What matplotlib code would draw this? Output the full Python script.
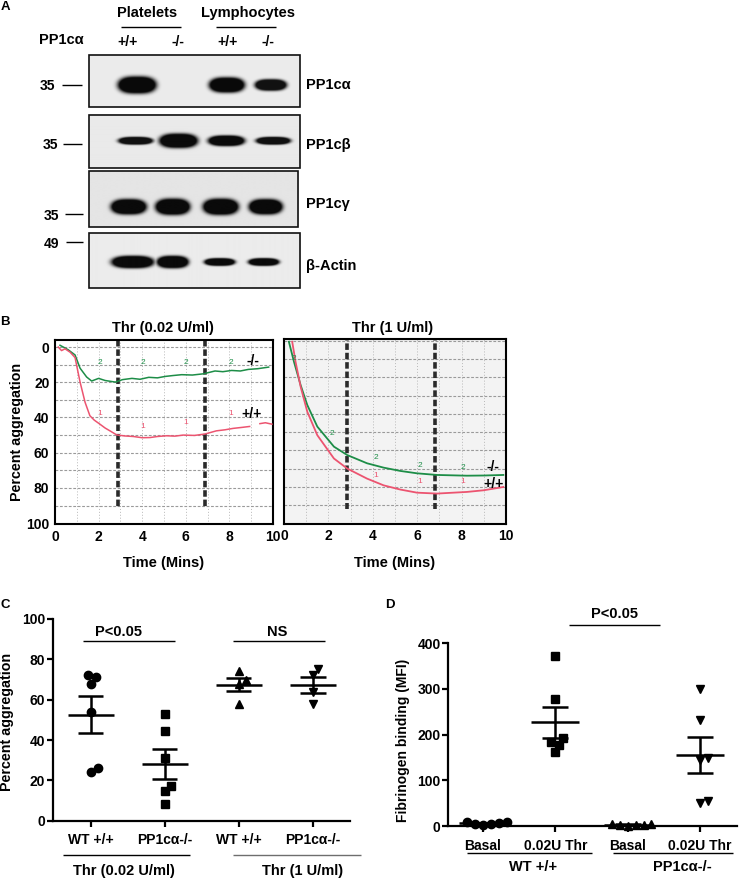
import numpy as np
import matplotlib
matplotlib.use('Agg')
import matplotlib.pyplot as plt
from matplotlib.patches import Rectangle

plt.rcParams['font.family'] = ['Liberation Sans', 'DejaVu Sans']
plt.rcParams['font.weight'] = 'bold'
plt.rcParams['axes.labelweight'] = 'bold'

# ------------------------------------------------------------------ data
cell_types = ['Platelets', 'Lymphocytes']
genotypes = ['+/+', '-/-', '+/+', '-/-']
blot_labels = ['PP1cα', 'PP1cβ', 'PP1cγ', 'β-Actin']
mw_labels = ['35', '35', '35', '49']

# band strength / thickness / width (px) per lane
pp1ca_int = [1.0, 0.0, 1.0, 0.97]
pp1ca_thick = [18, 0, 16, 12]
pp1ca_width = [40, 0, 37, 33]
pp1cb_int = [0.97, 1.0, 1.0, 0.97]
pp1cb_thick = [8, 15, 11, 8]
pp1cb_width = [36, 40, 38, 36]
pp1cg_int = [1.0, 1.0, 1.0, 1.0]
pp1cg_thick = [16, 17, 17, 16]
pp1cg_width = [37, 36, 37, 35]
actin_int = [1.0, 1.0, 1.0, 1.0]
actin_thick = [13, 13, 8, 8]
actin_width = [44, 33, 32, 32]

# aggregation traces, Thr 0.02 U/ml
tL_ko = [0.23, 0.38, 0.6, 0.92, 1.15, 1.45, 1.68, 2.0, 2.3, 2.77, 3.1, 3.53, 3.9, 4.3,
         4.7, 5.05, 5.4, 5.81, 6.3, 6.81, 7.34, 7.7, 8.1, 8.5, 8.87, 9.3, 9.8]
vL_ko = [-1, 0, 1.5, 4.5, 12, 17, 19.3, 17.8, 19, 19.9, 18.5, 17.8, 18.3, 17.2,
         17.5, 16.7, 16.2, 15.7, 15.9, 15.2, 13.6, 14, 13.3, 13.6, 12.7, 12.3, 11.4]
tL_wt = [0.15, 0.3, 0.46, 0.7, 0.92, 1.15, 1.38, 1.6, 1.8, 2.06, 2.3, 2.52, 2.83, 3.2,
         3.59, 4.0, 4.36, 4.7, 5.12, 5.5, 5.88, 6.4, 6.88, 7.4, 7.8, 8.17, 8.6, 8.93,
         9.1, 9.4, 9.65, 9.95]
vL_wt = [0, 2, 1, 3, 6, 19.9, 31.4, 39, 41.5, 43.8, 46, 47.6, 49.9, 50.5,
         50.8, 51.5, 51.4, 50.8, 50.4, 50.6, 50, 50.2, 49.4, 47.6, 47, 46.2, 45.6, 45.1,
         np.nan, 43.5, 43.0, 43.8]
# aggregation traces, Thr 1 U/ml
tR_ko = [0.22, 0.45, 0.75, 1.05, 1.5, 2.25, 2.85, 3.74, 4.49, 5.24, 5.99, 6.89, 8.24, 9.0, 9.88]
vR_ko = [0.5, 11.5, 24.3, 35.2, 47, 58, 62.6, 67.1, 69.5, 71.3, 72.6, 73.5, 73.9, 73.8, 73.5]
tR_wt = [0.37, 0.52, 0.75, 1.05, 1.5, 2.25, 2.85, 3.74, 4.49, 5.24, 5.99, 6.89, 8.24, 8.99, 9.88]
vR_wt = [0.5, 11.5, 25.2, 38.9, 51.7, 64.5, 70, 75.5, 79.2, 81.5, 83.2, 83.7, 82.8, 81.9, 80.1]
# chart recorder marks (time of pen marks)
marksL = [2.88, 6.88]
marksR = [2.85, 6.81]

# panel C
c_labels = ['WT +/+', 'PP1cα-/-', 'WT +/+', 'PP1cα-/-']
c_groups = ['Thr (0.02 U/ml)', 'Thr (1 U/ml)']
c_wt_low = [72, 68, 71, 54, 24, 26]
c_ko_low = [53, 44.5, 31, 17, 14.5, 8.5]
c_wt_high = [74, 70, 68, 58]
c_ko_high = [75, 72, 64, 58]

# panel D
d_labels = ['Basal', '0.02U Thr', 'Basal', '0.02U Thr']
d_groups = ['WT +/+', 'PP1cα-/-']
d_wt_basal = [5, 8, 3, 6, 9, 4]
d_wt_thr = [372, 277, 192, 183, 177, 161]
d_ko_basal = [2, 4, 1, 3, 5, 2]
d_ko_thr = [300, 233, 148, 145, 50, 55]

# ------------------------------------------------------------------ layout
W, H = 745, 880
fig = plt.figure(figsize=(W / 100, H / 100), dpi=100)
fig.patch.set_facecolor('white')

FS = 10.5     # main text size
TS = 10       # tick label size


def px(x0, y0, x1, y1):
    return [x0 / W, 1 - y1 / H, (x1 - x0) / W, (y1 - y0) / H]


ax0 = fig.add_axes([0, 0, 1, 1], zorder=10)
ax0.patch.set_alpha(0)
ax0.axis('off')


def T(x, y, s, size=FS, ha='center', va='center', **kw):
    ax0.text(x, y, s, fontsize=size, ha=ha, va=va, fontweight='bold', **kw)


def L(x0, x1, y, color='black', lw=1.0):
    ax0.plot([x0, x1], [y, y], color=color, lw=lw, solid_capstyle='butt')


# ---------------- panel A
T(5, 7, 'A', 9.5)
T(147, 13, cell_types[0])
T(248, 13, cell_types[1])
L(121, 181, 27.5)
L(216, 276, 27.5)
T(61, 40, 'PP1cα')
for gx, g in zip([128, 178, 228, 268], genotypes):
    T(gx, 42, g, 10)

boxes = [(89, 55, 300, 107), (88.5, 115, 299.5, 168.5), (88.5, 171.5, 298, 227), (88.5, 233, 300, 288)]
band_y = [85, 141.5, 207, 262]
lane_x = [[137, 178, 227, 271], [135, 178, 226, 273], [128, 172, 220, 265], [132, 172, 219, 263]]
bgs = [0.925, 0.915, 0.895, 0.925]
ints = [pp1ca_int, pp1cb_int, pp1cg_int, actin_int]
thicks = [pp1ca_thick, pp1cb_thick, pp1cg_thick, actin_thick]
widths = [pp1ca_width, pp1cb_width, pp1cg_width, actin_width]
label_y = [85, 145, 204, 266]
mw_y = [86.5, 145, 215.5, 243.5]
mw_x = [47, 50, 51, 51]
mw_line = [(62, 81.5), (63, 81.5), (65, 83), (66, 83)]

for k in range(4):
    x0, y0, x1, y1 = boxes[k]
    nx, ny = int((x1 - x0) * 2), int((y1 - y0) * 2)
    X, Y = np.meshgrid(np.linspace(x0, x1, nx), np.linspace(y0, y1, ny))
    dark = np.zeros_like(X)
    for cx, bw, bt, a in zip(lane_x[k], widths[k], thicks[k], ints[k]):
        if a <= 0:
            continue
        r = np.abs((X - cx) / (bw / 2)) ** 3 + np.abs((Y - band_y[k]) / (bt / 2)) ** 2
        f = np.clip(1.8 * np.exp(-1.3 * r ** 2), 0, 1) * a
        dark = np.maximum(dark, f)
    img = bgs[k] * (1 - dark) + 0.04 * dark
    ax0.imshow(img, cmap='gray', vmin=0, vmax=1, extent=(x0, x1, y1, y0),
               aspect='auto', interpolation='bilinear', zorder=1)
    ax0.add_patch(Rectangle((x0, y0), x1 - x0, y1 - y0, fill=False, ec='#111111', lw=1.2, zorder=2))
    T(306, label_y[k], blot_labels[k], ha='left')
    T(mw_x[k], mw_y[k], mw_labels[k], 10)
    L(mw_line[k][0], mw_line[k][1], mw_y[k] - 1, lw=1.0)

# ---------------- panel B
T(5, 322, 'B', 9.5)
T(163, 328, 'Thr (0.02 U/ml)')
T(393, 328, 'Thr (1 U/ml)')
T(164, 563, 'Time (Mins)')
T(395, 563, 'Time (Mins)')
T(17, 432, 'Percent aggregation', 10.3, rotation=90)

green = '#1d8d47'
red = '#ec5470'


def agg_axes(rect, ylim, bg):
    ax = fig.add_axes(rect)
    ax.set_facecolor(bg)
    ax.set_xlim(0, 10)
    ax.set_ylim(*ylim)
    for t in range(1, 10):
        ax.axvline(t, color='#b8b8b8', lw=0.7, ls=(0, (1, 2)), zorder=1)
    for v in range(0, 100, 10):
        ax.axhline(v, color='#9a9a9a', lw=0.8, ls=(0, (2.5, 1.5)), zorder=1)
    for s in ax.spines.values():
        s.set_linewidth(1.5)
    ax.set_xticks(range(0, 11, 2))
    ax.tick_params(length=0, labelsize=TS, pad=4)
    return ax


axL = agg_axes(px(55, 340, 273, 524), (100.5, -4), 'white')
axL.set_yticks(range(0, 101, 20))
axR = agg_axes(px(284, 339, 506, 523.5), (100.1, -1), '#f3f3f3')
axR.set_yticks([])
for lab in axL.get_xticklabels() + axL.get_yticklabels() + axR.get_xticklabels():
    lab.set_fontweight('bold')

for ax, marks in [(axL, marksL), (axR, marksR)]:
    for m in marks:
        ax.plot([m, m], [-4, 92], color='#2a2a2a', lw=2.6, ls=(0, (1.8, 0.8)), zorder=2)

axL.plot(tL_ko, vL_ko, color=green, lw=1.1, zorder=3)
axL.plot(tL_wt, vL_wt, color=red, lw=1.1, zorder=3)
axR.plot(tR_ko, vR_ko, color=green, lw=1.3, zorder=3)
axR.plot(tR_wt, vR_wt, color=red, lw=1.3, zorder=3)

for tx in [2.06, 4.03, 6.02, 8.05]:
    axL.text(tx, 9, '2', color=green, fontsize=6, fontweight='normal', ha='center', va='center')
for tx, ty in [(2.06, 37.5), (4.03, 45), (6.0, 43), (8.05, 38)]:
    axL.text(tx, ty, '1', color=red, fontsize=6, fontweight='normal', ha='center', va='center')
for tx, ty in [(0.45, 9.6), (2.17, 50.7), (4.12, 63.9), (6.1, 68.5), (8.06, 69.4)]:
    axR.text(tx, ty, '2', color=green, fontsize=6, fontweight='normal', ha='center', va='center')
for tx, ty in [(4.12, 73.6), (6.1, 77), (8.06, 77)]:
    axR.text(tx, ty, '1', color=red, fontsize=6, fontweight='normal', ha='center', va='center')

axL.text(9.1, 8, '-/-', fontsize=10, fontweight='bold', ha='center', va='center', zorder=4)
axL.text(9.0, 38, '+/+', fontsize=10, fontweight='bold', ha='center', va='center', zorder=4)
axR.text(9.43, 69, '-/-', fontsize=10, fontweight='bold', ha='center', va='center', zorder=4)
axR.text(9.43, 78.5, '+/+', fontsize=10, fontweight='bold', ha='center', va='center', zorder=4)


# ---------------- scatter helpers
def swarm(ax, xc, vals, d_px=8.0):
    trans = ax.transData
    ys = [trans.transform((xc, v))[1] for v in vals]
    order = np.argsort(vals, kind='stable')
    placed = []
    offs = np.zeros(len(vals))
    for i in order:
        y = ys[i]
        intervals = []
        for xo, yo in placed:
            dy = abs(y - yo)
            if dy < d_px:
                dx = np.sqrt(d_px ** 2 - dy ** 2)
                intervals.append((xo - dx, xo + dx))
        cands = [0.0] + [a for iv in intervals for a in iv]
        cands.sort(key=lambda c: (round(abs(c), 6), -c))
        chosen = 0.0
        for c in cands:
            if all(not (lo + 1e-6 < c < hi - 1e-6) for lo, hi in intervals):
                chosen = c
                break
        offs[i] = chosen
        placed.append((chosen, y))
    ppu = trans.transform((xc + 1, 0))[0] - trans.transform((xc, 0))[0]
    return xc + offs / ppu


def group(ax, xc, vals, marker, ms, wmean, wcap):
    xs = swarm(ax, xc, vals)
    ax.plot(xs, vals, ls='none', marker=marker, ms=ms, color='black', mec='black', clip_on=False, zorder=3)
    v = np.asarray(vals, float)
    m = v.mean()
    sem = v.std(ddof=1) / np.sqrt(len(v))
    kw = dict(color='black', lw=1.8, solid_capstyle='butt', zorder=4, clip_on=False)
    ax.plot([xc - wmean, xc + wmean], [m, m], **kw)
    ax.plot([xc, xc], [m - sem, m + sem], **kw)
    ax.plot([xc - wcap, xc + wcap], [m - sem, m - sem], **kw)
    ax.plot([xc - wcap, xc + wcap], [m + sem, m + sem], **kw)


def prism_axes(rect, xlim, ylim, yticks, labels):
    ax = fig.add_axes(rect)
    ax.patch.set_alpha(0)
    ax.set_xlim(*xlim)
    ax.set_ylim(*ylim)
    for s in ['top', 'right']:
        ax.spines[s].set_visible(False)
    for s in ['left', 'bottom']:
        ax.spines[s].set_linewidth(1.6)
    ax.set_yticks(yticks)
    ax.set_xticks([1, 2, 3, 4])
    ax.set_xticklabels(labels)
    ax.tick_params(axis='y', length=4, width=1.6, labelsize=TS, pad=1.5)
    ax.tick_params(axis='x', length=4, width=1.6, labelsize=TS, pad=5)
    for lab in ax.get_xticklabels() + ax.get_yticklabels():
        lab.set_fontweight('bold')
    return ax


# ---------------- panel C
T(5, 605, 'C', 9.5)
axC = prism_axes(px(53, 619, 350, 820.7), (0.49, 4.5), (0, 100), range(0, 101, 20), c_labels)
group(axC, 1, c_wt_low, 'o', 6, 0.31, 0.17)
group(axC, 2, c_ko_low, 's', 5.5, 0.31, 0.17)
group(axC, 3, c_wt_high, '^', 6, 0.31, 0.17)
group(axC, 4, c_ko_high, 'v', 6, 0.31, 0.17)
T(119, 632, 'P<0.05')
L(83, 175, 641)
T(277, 632, 'NS')
L(233, 325, 641)
L(62.5, 190, 855)
L(233, 360.5, 855, color='#6e6e6e')
T(124, 871.5, c_groups[0])
T(303, 871.5, c_groups[1])
T(7, 722, 'Percent aggregation', 10.3, rotation=90)

# ---------------- panel D
T(390, 605, 'D', 9.5)
axD = prism_axes(px(448.3, 643.3, 736.7, 826), (0.52, 4.51), (0, 400), range(0, 401, 100), d_labels)
group(axD, 1, d_wt_basal, 'o', 6, 0.33, 0.18)
group(axD, 2, d_wt_thr, 's', 5.5, 0.33, 0.18)
group(axD, 3, d_ko_basal, '^', 6, 0.33, 0.18)
group(axD, 4, d_ko_thr, 'v', 6, 0.33, 0.18)
T(615, 614.5, 'P<0.05')
L(569, 660, 625.5)
L(466.5, 591.5, 853.5)
L(613, 733, 853.5)
T(533, 867, d_groups[0])
T(682, 867, d_groups[1])
T(403, 740, 'Fibrinogen binding (MFI)', 10, rotation=90)

ax0.set_xlim(0, W)
ax0.set_ylim(H, 0)

fig.savefig('out.png', dpi=100)
